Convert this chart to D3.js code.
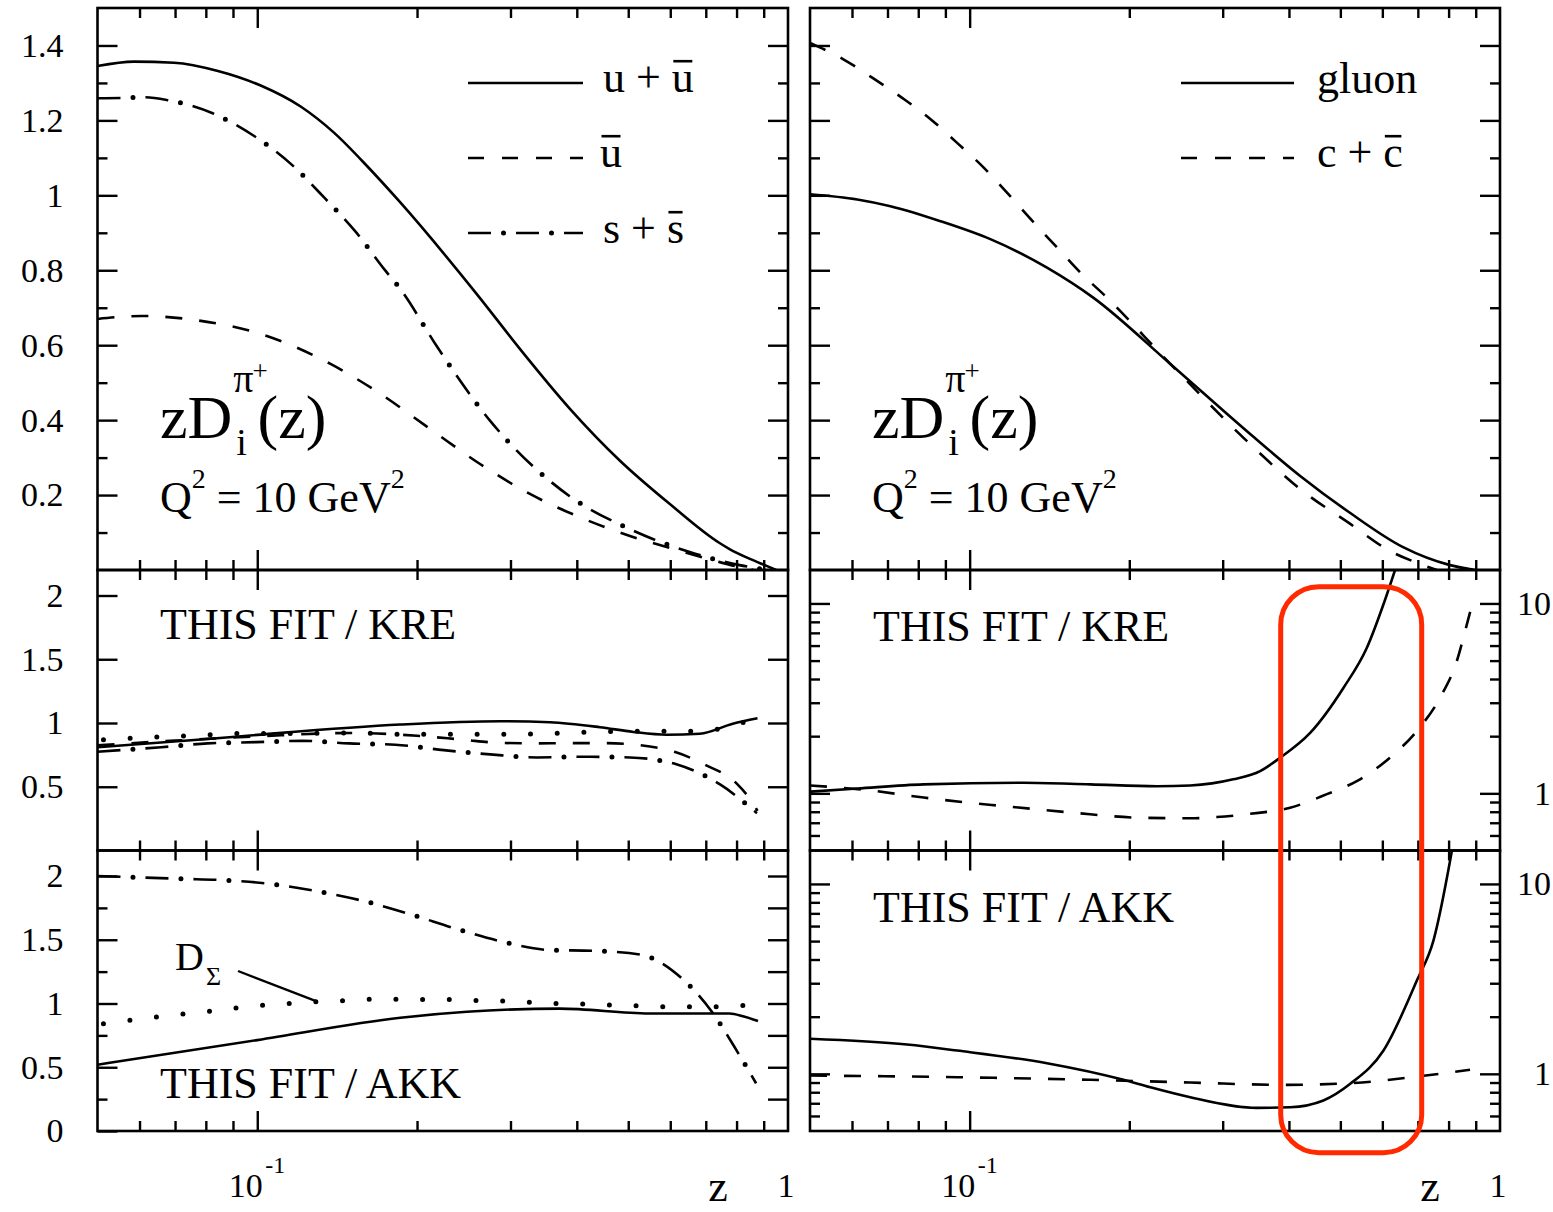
<!DOCTYPE html>
<html><head><meta charset="utf-8">
<script src="https://cdn.jsdelivr.net/npm/d3@7"></script>
<style>
body{margin:0;background:#fff}
text{font-family:"Liberation Serif","Times New Roman",serif;fill:#000}
</style>
</head><body>
<svg id="c" width="1553" height="1212"></svg>
<script>
// ---------------- tick values ----------------
const zMajorTicks = [0.1];
const zMinorTicks = [0.06,0.07,0.08,0.09,0.2,0.3,0.4,0.5,0.6,0.7,0.8,0.9];
const topMajorTicks = [0.2,0.4,0.6,0.8,1,1.2,1.4];
const topMinorTicks = [0.1,0.3,0.5,0.7,0.9,1.1,1.3];
const ratioMajorTicks = [0.5,1,1.5,2];
const ratioMajorTicksBottom = [0,0.5,1,1.5,2];
const ratioMinorTicks = [0.25,0.75,1.25,1.75];
const logMajorTicks = [1,10];
const logMinorTicks = [0.6,0.7,0.8,0.9,2,3,4,5,6,7,8,9];

// ---------------- series  [z, value] ----------------
// top-left: zD_i^{pi+}(z), Q^2 = 10 GeV^2
const uPlusUbarTop = [[0.05,1.345],[0.0586,1.357],[0.0697,1.354],[0.0843,1.332],[0.1015,1.293],[0.1207,1.237],[0.1393,1.168],[0.1613,1.077],[0.186,0.981],[0.261,0.731],[0.313,0.589],[0.389,0.429],[0.483,0.291],[0.599,0.176],[0.743,0.072],[0.776,0.056],[0.85,0.029],[0.911,0.011],[0.95,0]];
const ubarTop = [[0.05,0.67],[0.0604,0.678],[0.0783,0.665],[0.1015,0.63],[0.1374,0.55],[0.1707,0.47],[0.2119,0.376],[0.2629,0.283],[0.3264,0.203],[0.4052,0.141],[0.5036,0.091],[0.6255,0.051],[0.7435,0.021],[0.8268,0.005],[0.86,0]];
const sPlusSbarTop = [[0.05,1.259],[0.0554,1.26],[0.0613,1.262],[0.0679,1.254],[0.0824,1.219],[0.0985,1.159],[0.1161,1.082],[0.1339,0.993],[0.1536,0.901],[0.1739,0.801],[0.186,0.75],[0.2184,0.595],[0.2747,0.398],[0.3878,0.197],[0.5036,0.109],[0.6528,0.048],[0.8103,0.013],[0.884,0.003],[0.9,0]];
// top-right
const gluonTop = [[0.05,1.003],[0.0614,0.989],[0.0709,0.971],[0.0881,0.931],[0.1094,0.883],[0.1399,0.807],[0.171,0.727],[0.239,0.55],[0.338,0.363],[0.42,0.251],[0.522,0.152],[0.6565,0.061],[0.805,0.013],[0.897,0]];
const cPlusCbarTop = [[0.05,1.407],[0.0578,1.363],[0.0655,1.314],[0.0746,1.26],[0.0843,1.204],[0.0947,1.14],[0.1063,1.074],[0.1183,1.003],[0.1318,0.929],[0.1461,0.861],[0.1627,0.79],[0.18,0.732],[0.239,0.55],[0.338,0.336],[0.42,0.216],[0.522,0.123],[0.62,0.051],[0.707,0.016],[0.76,0]];
// middle-left: THIS FIT / KRE
const uPlusUbarKRE = [[0.05,0.81],[0.0783,0.87],[0.1,0.907],[0.186,0.988],[0.287,1.014],[0.356,1.006],[0.442,0.967],[0.511,0.93],[0.59,0.908],[0.682,0.916],[0.787,0.994],[0.876,1.037]];
const ubarKRE = [[0.05,0.825],[0.07,0.862],[0.1,0.895],[0.15,0.922],[0.2,0.9],[0.243,0.87],[0.287,0.844],[0.336,0.84],[0.388,0.842],[0.452,0.842],[0.525,0.826],[0.611,0.774],[0.7,0.67],[0.799,0.528],[0.866,0.346],[0.876,0.31]];
const dSigmaKRE = [[0.05,0.865],[0.059,0.883],[0.0744,0.899],[0.0944,0.918],[0.119,0.918],[0.15,0.922],[0.1887,0.912],[0.2393,0.912],[0.303,0.912],[0.3822,0.922],[0.4826,0.935],[0.6068,0.935],[0.682,0.935],[0.7706,0.97],[0.8592,1.028]];
const sPlusSbarKRE = [[0.05,0.775],[0.0659,0.81],[0.0806,0.84],[0.0994,0.85],[0.1216,0.86],[0.1488,0.84],[0.182,0.83],[0.2245,0.787],[0.2747,0.754],[0.3362,0.73],[0.4111,0.735],[0.5036,0.73],[0.616,0.676],[0.7435,0.52],[0.874,0.293]];
// middle-right: THIS FIT / KRE (log)
const gluonKRE = [[0.05,1.02],[0.0614,1.06],[0.0819,1.115],[0.1264,1.137],[0.1688,1.115],[0.2255,1.09],[0.2606,1.1],[0.314,1.185],[0.353,1.31],[0.385,1.54],[0.4385,2.08],[0.507,3.6],[0.561,5.84],[0.603,9.9],[0.634,15]];
const cPlusCbarKRE = [[0.05,1.1],[0.0641,1.04],[0.0819,0.95],[0.1003,0.89],[0.1159,0.857],[0.157,0.79],[0.2097,0.744],[0.2606,0.739],[0.2925,0.75],[0.338,0.78],[0.402,0.84],[0.4716,0.99],[0.537,1.16],[0.62,1.54],[0.697,2.13],[0.771,3.19],[0.829,4.97],[0.866,7.76],[0.891,10.5]];
// bottom-left: THIS FIT / AKK
const sPlusSbarAKK = [[0.05,2.0],[0.0586,1.99],[0.0718,1.978],[0.0879,1.966],[0.1075,1.935],[0.1316,1.875],[0.161,1.797],[0.1943,1.7],[0.2378,1.584],[0.2893,1.485],[0.3537,1.42],[0.433,1.413],[0.5287,1.382],[0.6298,1.2],[0.7175,0.94],[0.8046,0.615],[0.8707,0.374]];
const dSigmaAKK = [[0.05,0.835],[0.0578,0.87],[0.0649,0.896],[0.0729,0.919],[0.0818,0.94],[0.0918,0.966],[0.103,0.987],[0.1156,1.0],[0.1298,1.014],[0.1456,1.023],[0.1634,1.033],[0.1835,1.033],[0.207,1.031],[0.2327,1.031],[0.2619,1.023],[0.294,1.018],[0.3299,1.008],[0.3705,1.0],[0.4159,0.995],[0.469,0.987],[0.525,0.981],[0.5897,0.975],[0.6628,0.975],[0.7457,0.975],[0.8394,0.987]];
const uPlusUbarAKK = [[0.05,0.52],[0.1,0.713],[0.186,0.888],[0.2483,0.935],[0.3714,0.96],[0.5473,0.922],[0.7226,0.922],[0.7761,0.922],[0.8226,0.9],[0.878,0.862]];
// bottom-right: THIS FIT / AKK (log)
const gluonAKK = [[0.05,1.53],[0.0762,1.426],[0.0947,1.326],[0.1399,1.137],[0.195,0.93],[0.219,0.85],[0.2606,0.753],[0.348,0.662],[0.402,0.667],[0.4645,0.724],[0.522,0.886],[0.603,1.327],[0.697,3.1],[0.749,5.03],[0.805,13.2],[0.815,16]];
const cPlusCbarAKK = [[0.05,0.98],[0.0947,0.96],[0.1688,0.93],[0.2606,0.9],[0.391,0.875],[0.522,0.893],[0.697,0.967],[0.878,1.05]];

// ---------------- layout ----------------
const COLS = [[97.5,788],[810,1500]];
const ROWS = [[8,570],[570,850.5],[850.5,1131]];
const LW = 2.6;
const svg = d3.select('#c');

function makePanel(ci, ri, type, domain){
  const [x0,x1] = COLS[ci], [y0,y1] = ROWS[ri];
  const x = d3.scaleLog().domain([0.05,1]).range([x0,x1]);
  const y = (type==='log'?d3.scaleLog():d3.scaleLinear()).domain(domain).range([y1,y0]);
  const id = 'clip'+ci+ri;
  svg.append('clipPath').attr('id',id).append('rect').attr('x',x0).attr('y',y0).attr('width',x1-x0).attr('height',y1-y0);
  const g = svg.append('g').attr('clip-path',`url(#${id})`);
  return {x,y,g,x0,x1,y0,y1};
}

function drawSeries(p, data, style){
  const line = d3.line().x(d=>p.x(d[0])).y(d=>p.y(d[1])).curve(d3.curveMonotoneX);
  const base = p.g.append('path').attr('d',line(data)).attr('fill','none').attr('stroke','#000');
  if(style==='solid'){ base.attr('stroke-width',LW); }
  else if(style==='dashed'){ base.attr('stroke-width',LW).attr('stroke-dasharray','17 17'); }
  else if(style==='dotted'){ base.attr('stroke-width',5).attr('stroke-linecap','round').attr('stroke-dasharray','0 26.7').attr('stroke-dashoffset',-6); }
  else if(style==='dashdot'){
    base.attr('stroke-width',LW).attr('stroke-dasharray','23 25');
    p.g.append('path').attr('d',line(data)).attr('fill','none').attr('stroke','#000')
      .attr('stroke-width',5).attr('stroke-linecap','round').attr('stroke-dasharray','0 48').attr('stroke-dashoffset',12.5);
  }
}

function addAxis(gen, scale, vals, len, tr, fmt, pad){
  const a = gen(scale).tickValues(vals).tickSizeInner(-len).tickSizeOuter(0)
    .tickPadding(pad||0).tickFormat(fmt||(()=>''));
  const g = svg.append('g').attr('transform',tr).call(a);
  g.select('.domain').remove();
  g.selectAll('line').attr('stroke','#000').attr('stroke-width',2.4);
  g.selectAll('text').attr('font-size',34).attr('fill','#000');
  return g;
}

function frameAndX(p){
  addAxis(d3.axisTop, p.x, zMajorTicks, 20, `translate(0,${p.y0})`);
  addAxis(d3.axisTop, p.x, zMinorTicks, 10, `translate(0,${p.y0})`);
  addAxis(d3.axisBottom, p.x, zMajorTicks, 20, `translate(0,${p.y1})`);
  addAxis(d3.axisBottom, p.x, zMinorTicks, 10, `translate(0,${p.y1})`);
  svg.append('rect').attr('x',p.x0).attr('y',p.y0).attr('width',p.x1-p.x0).attr('height',p.y1-p.y0)
    .attr('fill','none').attr('stroke','#000').attr('stroke-width',2.6);
}
const fmtNum = d=>String(d);

// sequential text with optional overbar
function seqText(x, y, runs){
  let cx = x;
  runs.forEach(r=>{
    const t = svg.append('text').attr('x',cx).attr('y',y+(r.dy||0)).attr('font-size',r.size).text(r.t);
    const w = t.node().getComputedTextLength();
    if(r.bar){
      const by = y - r.size*0.7;
      svg.append('line').attr('x1',cx+1.5).attr('x2',cx+w-1.5).attr('y1',by).attr('y2',by)
        .attr('stroke','#000').attr('stroke-width',2.6);
    }
    cx += w + (r.gap||0);
  });
  return cx;
}

function legendLine(x1,x2,y,style){
  const g = svg.append('g');
  const mk = ()=>g.append('line').attr('x1',x1).attr('x2',x2).attr('y1',y).attr('y2',y).attr('stroke','#000');
  const l = mk().attr('stroke-width',LW);
  if(style==='dashed') l.attr('stroke-dasharray','16 18');
  if(style==='dashdot'){
    l.attr('stroke-dasharray','23 25');
    mk().attr('stroke-width',5).attr('stroke-linecap','round').attr('stroke-dasharray','0 48').attr('stroke-dashoffset',12.5);
  }
}

function zDLabel(x){
  const big = 62;
  const t1 = svg.append('text').attr('x',x).attr('y',438).attr('font-size',big).text('zD');
  const w1 = t1.node().getComputedTextLength();
  const sx = x + w1 + 1;
  const tp = svg.append('text').attr('x',sx).attr('y',392).attr('font-size',40).text('π');
  const wp = tp.node().getComputedTextLength();
  svg.append('text').attr('x',sx+wp-1).attr('y',380).attr('font-size',27).text('+');
  svg.append('text').attr('x',sx+3).attr('y',455).attr('font-size',38).text('i');
  svg.append('text').attr('x',sx+wp+4).attr('y',438).attr('font-size',big).text('(z)');
  seqText(x, 512, [
    {t:'Q',size:44},
    {t:'2',size:28,dy:-24},
    {t:'\u00A0=\u00A010\u00A0GeV',size:44},
    {t:'2',size:28,dy:-24}
  ]);
}

// ---------------- panels ----------------
// top-left
const pTL = makePanel(0,0,'lin',[0,1.5]);
drawSeries(pTL, uPlusUbarTop, 'solid');
drawSeries(pTL, ubarTop, 'dashed');
drawSeries(pTL, sPlusSbarTop, 'dashdot');
addAxis(d3.axisLeft, pTL.y, topMajorTicks, 20, `translate(${pTL.x0},0)`, fmtNum, 34);
addAxis(d3.axisLeft, pTL.y, topMinorTicks, 10, `translate(${pTL.x0},0)`);
addAxis(d3.axisRight, pTL.y, topMajorTicks, 20, `translate(${pTL.x1},0)`);
addAxis(d3.axisRight, pTL.y, topMinorTicks, 10, `translate(${pTL.x1},0)`);
frameAndX(pTL);

// top-right
const pTR = makePanel(1,0,'lin',[0,1.5]);
drawSeries(pTR, gluonTop, 'solid');
drawSeries(pTR, cPlusCbarTop, 'dashed');
addAxis(d3.axisLeft, pTR.y, topMajorTicks, 20, `translate(${pTR.x0},0)`);
addAxis(d3.axisLeft, pTR.y, topMinorTicks, 10, `translate(${pTR.x0},0)`);
addAxis(d3.axisRight, pTR.y, topMajorTicks, 20, `translate(${pTR.x1},0)`);
addAxis(d3.axisRight, pTR.y, topMinorTicks, 10, `translate(${pTR.x1},0)`);
frameAndX(pTR);

// middle-left
const pML = makePanel(0,1,'lin',[0,2.2]);
drawSeries(pML, uPlusUbarKRE, 'solid');
drawSeries(pML, ubarKRE, 'dashed');
drawSeries(pML, dSigmaKRE, 'dotted');
drawSeries(pML, sPlusSbarKRE, 'dashdot');
addAxis(d3.axisLeft, pML.y, ratioMajorTicks, 20, `translate(${pML.x0},0)`, fmtNum, 34);
addAxis(d3.axisRight, pML.y, ratioMajorTicks, 20, `translate(${pML.x1},0)`);
frameAndX(pML);

// middle-right
const pMR = makePanel(1,1,'log',[0.5,15]);
drawSeries(pMR, gluonKRE, 'solid');
drawSeries(pMR, cPlusCbarKRE, 'dashed');
addAxis(d3.axisLeft, pMR.y, logMajorTicks, 20, `translate(${pMR.x0},0)`);
addAxis(d3.axisLeft, pMR.y, logMinorTicks, 10, `translate(${pMR.x0},0)`);
addAxis(d3.axisRight, pMR.y, logMajorTicks, 20, `translate(${pMR.x1},0)`, fmtNum, 51)
  .selectAll('text').attr('text-anchor','end');
addAxis(d3.axisRight, pMR.y, logMinorTicks, 10, `translate(${pMR.x1},0)`);
frameAndX(pMR);

// bottom-left
const pBL = makePanel(0,2,'lin',[0,2.2]);
drawSeries(pBL, uPlusUbarAKK, 'solid');
drawSeries(pBL, dSigmaAKK, 'dotted');
drawSeries(pBL, sPlusSbarAKK, 'dashdot');
addAxis(d3.axisLeft, pBL.y, ratioMajorTicksBottom, 20, `translate(${pBL.x0},0)`, fmtNum, 34);
addAxis(d3.axisLeft, pBL.y, ratioMinorTicks, 10, `translate(${pBL.x0},0)`);
addAxis(d3.axisRight, pBL.y, ratioMajorTicks.concat(ratioMinorTicks), 20, `translate(${pBL.x1},0)`);
frameAndX(pBL);

// bottom-right
const pBR = makePanel(1,2,'log',[0.5,15]);
drawSeries(pBR, gluonAKK, 'solid');
drawSeries(pBR, cPlusCbarAKK, 'dashed');
addAxis(d3.axisLeft, pBR.y, logMajorTicks, 20, `translate(${pBR.x0},0)`);
addAxis(d3.axisLeft, pBR.y, logMinorTicks, 10, `translate(${pBR.x0},0)`);
addAxis(d3.axisRight, pBR.y, logMajorTicks, 20, `translate(${pBR.x1},0)`, fmtNum, 51)
  .selectAll('text').attr('text-anchor','end');
addAxis(d3.axisRight, pBR.y, logMinorTicks, 10, `translate(${pBR.x1},0)`);
frameAndX(pBR);

// ---------------- x axis labels ----------------
[pBL,pBR].forEach(p=>{
  const xt = p.x(0.1);
  svg.append('text').attr('x',xt-28.5).attr('y',1197).attr('font-size',34).text('10');
  svg.append('text').attr('x',xt+8).attr('y',1173).attr('font-size',24).text('-1');
  svg.append('text').attr('x',p.x(1)-2).attr('y',1197).attr('font-size',34).attr('text-anchor','middle').text('1');
  svg.append('text').attr('x',p.x(1)-70).attr('y',1201).attr('font-size',44).attr('text-anchor','middle').text('z');
});

// ---------------- legends ----------------
const lgL = pTL.x1;
legendLine(lgL-320, lgL-205, 83, 'solid');
legendLine(lgL-320, lgL-205, 158, 'dashed');
legendLine(lgL-320, lgL-205, 233, 'dashdot');
seqText(lgL-185, 92, [{t:'u\u00A0+\u00A0',size:44},{t:'u',size:44,bar:true}]);
seqText(lgL-188, 167, [{t:'u',size:44,bar:true}]);
seqText(lgL-185, 243, [{t:'s\u00A0+\u00A0',size:44},{t:'s',size:44,bar:true}]);

const lgR = pTR.x1;
legendLine(lgR-319, lgR-206, 83, 'solid');
legendLine(lgR-319, lgR-206, 158, 'dashed');
svg.append('text').attr('x',lgR-183).attr('y',93).attr('font-size',44).text('gluon');
seqText(lgR-183, 167, [{t:'c\u00A0+\u00A0',size:44},{t:'c',size:44,bar:true}]);

// ---------------- panel texts ----------------
zDLabel(160);
zDLabel(872);
svg.append('text').attr('x',160).attr('y',639).attr('font-size',44).text('THIS FIT / KRE');
svg.append('text').attr('x',873).attr('y',641).attr('font-size',44).text('THIS FIT / KRE');
svg.append('text').attr('x',160).attr('y',1098).attr('font-size',44).text('THIS FIT / AKK');
svg.append('text').attr('x',873).attr('y',922).attr('font-size',44).text('THIS FIT / AKK');

// D_Sigma annotation
svg.append('text').attr('x',175).attr('y',970).attr('font-size',40).text('D');
svg.append('text').attr('x',206).attr('y',985).attr('font-size',26).text('Σ');
const dsPt = dSigmaAKK[8];
svg.append('line').attr('x1',238).attr('y1',971).attr('x2',pBL.x(dsPt[0])).attr('y2',pBL.y(dsPt[1]))
  .attr('stroke','#000').attr('stroke-width',2.4);

// red highlight box
svg.append('rect').attr('x',1280.7).attr('y',586.7).attr('width',141).attr('height',566)
  .attr('rx',38).attr('ry',38).attr('fill','none').attr('stroke','#ff2a00').attr('stroke-width',5);
</script>
</body></html>
